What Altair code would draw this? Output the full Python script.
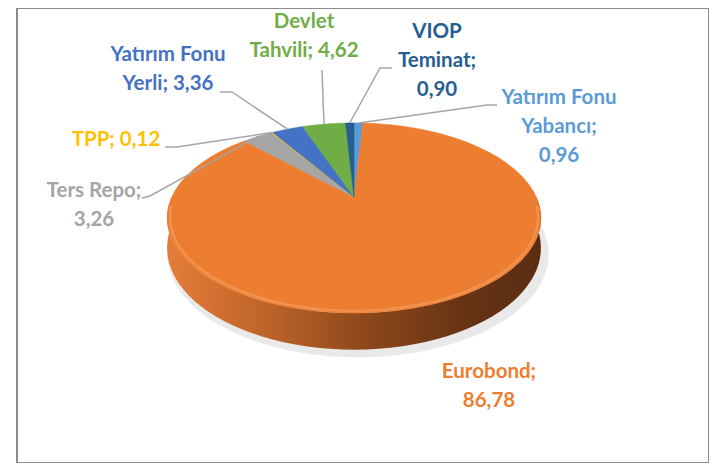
import altair as alt
import pandas as pd

# ---- data ----
categories = ["Yatırım Fonu Yabancı", "Eurobond", "Ters Repo", "TPP",
              "Yatırım Fonu Yerli", "Devlet Tahvili", "VIOP Teminat"]
values = [0.96, 86.78, 3.26, 0.12, 3.36, 4.62, 0.90]
label_names = ["Yatırım Fonu\nYabancı;", "Eurobond;", "Ters Repo;", "TPP;",
               "Yatırım Fonu\nYerli;", "Devlet\nTahvili;", "VIOP\nTeminat;"]
label_seps = ["\n", "\n", "\n", " ", " ", " ", "\n"]

# ---- style / layout ----
colors = ["#5B9BD5", "#ED7D31", "#A5A5A5", "#FFC000", "#4472C4", "#70AD47", "#255E91"]
label_x = [559, 489, 94, 116, 168, 304, 437]
label_y = [98, 372, 191, 140, 55, 22, 32]
elbow_x = [487, None, 150, 177, 232, 322, 380]
elbow_y = [105, None, 196, 147, 92, 70, 68]
end_x = [497, None, 142, 165, 220, 322, 392]
end_y = [105, None, 198, 147, 92, 70, 68]

CX, CY = 354, 197      # apex of the pie
A, B, K = 90.4, 182.3, 0.221   # perspective ellipse
D = 28.5               # depth of the wall
N = 60

df = pd.DataFrame({
    "cat": categories, "value": values, "order": list(range(len(values))),
    "name": label_names, "sep": label_seps,
    "lx": label_x, "ly": label_y,
    "ex": elbow_x, "ey": elbow_y, "tx": end_x, "ty": end_y,
})

xs = alt.Scale(domain=[17, 709], range=[0, 692], nice=False, zero=False)
ys = alt.Scale(domain=[8, 463], range=[0, 455], nice=False, zero=False)
cs = alt.Scale(domain=categories, range=colors)


def proj_x(u, v):
    return f"{CX} + {B} * ({u}) / (1 - {K} * ({v}))"


def proj_y(v, dep="0"):
    return f"{CY} + ({A} * ({v}) + ({dep})) / (1 - {K} * ({v}))"


def angles(ch):
    return (ch.transform_window(cum="sum(value)", sort=[alt.SortField("order")], frame=[None, 0])
              .transform_joinaggregate(total="sum(value)")
              .transform_calculate(t0="2*PI*(datum.cum - datum.value)/datum.total")
              .transform_calculate(t1="2*PI*datum.cum/datum.total"))


X = alt.X("X:Q", scale=xs, axis=None)
Y = alt.Y("Y:Q", scale=ys, axis=None)

# shadow under the pie
shadow = (alt.Chart(pd.DataFrame({"part": ["shadow"]}))
          .transform_calculate(idx=f"sequence(0, {2*N+1})")
          .transform_flatten(["idx"])
          .transform_calculate(th=f"2*PI*datum.idx/{2*N}")
          .transform_calculate(u="sin(datum.th)", v="-cos(datum.th)")
          .transform_calculate(X=proj_x("1.02*datum.u", "datum.v") + " + 4",
                               Y=proj_y("datum.v", f"{D} + 6"))
          .mark_line(filled=True, interpolate="linear-closed", color="#e9e9e9")
          .encode(x=X, y=Y, order="idx:Q"))

# wall (side of the cylinder)
wall = (alt.Chart(pd.DataFrame({"part": ["wall"]}))
        .transform_calculate(idx=f"sequence(0, {2*N+2})")
        .transform_flatten(["idx"])
        .transform_calculate(top=f"datum.idx <= {N} ? 1 : 0")
        .transform_calculate(th=f"datum.idx <= {N} ? PI/2 + PI*datum.idx/{N} : 3*PI/2 - PI*(datum.idx-{N+1})/{N}")
        .transform_calculate(u="sin(datum.th)", v="-cos(datum.th)")
        .transform_calculate(X=proj_x("datum.u", "datum.v"),
                             Y=proj_y("datum.v", f"(1-datum.top)*{D}"))
        .mark_line(filled=True, interpolate="linear-closed",
                   color=alt.LinearGradient(gradient="linear", x1=0, x2=1, y1=0, y2=0,
                                            stops=[alt.GradientStop(offset=0, color="#e57d37"),
                                                   alt.GradientStop(offset=0.25, color="#c0652a"),
                                                   alt.GradientStop(offset=0.55, color="#8a461a"),
                                                   alt.GradientStop(offset=0.8, color="#663314"),
                                                   alt.GradientStop(offset=1, color="#5a2d11")]))
        .encode(x=X, y=Y, order="idx:Q"))

# top face slices
slices = (angles(alt.Chart(df))
          .transform_calculate(idx=f"sequence(-1, {N+1})")
          .transform_flatten(["idx"])
          .transform_calculate(r="datum.idx < 0 ? 0 : 1")
          .transform_calculate(th=f"datum.t0 + (datum.t1 - datum.t0) * max(datum.idx, 0) / {N}")
          .transform_calculate(u="datum.r * sin(datum.th)", v="-datum.r * cos(datum.th)")
          .transform_calculate(X=proj_x("datum.u", "datum.v"), Y=proj_y("datum.v"))
          .mark_line(filled=True, interpolate="linear-closed", strokeWidth=0.6)
          .encode(x=X, y=Y, order="idx:Q", detail="cat:N",
                  color=alt.Color("cat:N", scale=cs, legend=None),
                  stroke=alt.Stroke("cat:N", scale=cs, legend=None)))

# bevel highlight along the front rim of the top face
rim = (alt.Chart(pd.DataFrame({"part": ["rim"]}))
       .transform_calculate(idx=f"sequence(0, {N+1})")
       .transform_flatten(["idx"])
       .transform_calculate(th=f"PI/2 + 0.1 + (PI - 0.2)*datum.idx/{N}")
       .transform_calculate(u="0.985*sin(datum.th)", v="-0.985*cos(datum.th)")
       .transform_calculate(X=proj_x("datum.u", "datum.v"), Y=proj_y("datum.v"))
       .mark_line(color="#f6a467", strokeWidth=2.5, opacity=0.55)
       .encode(x=X, y=Y, order="idx:Q"))

# leader lines
leaders = (angles(alt.Chart(df))
           .transform_filter("isValid(datum.ex)")
           .transform_calculate(tm="(datum.t0 + datum.t1)/2")
           .transform_calculate(pt="sequence(0, 3)")
           .transform_flatten(["pt"])
           .transform_calculate(u="sin(datum.tm)", v="-cos(datum.tm)")
           .transform_calculate(
               X="datum.pt == 0 ? " + proj_x("datum.u", "datum.v") + " : datum.pt == 1 ? datum.ex : datum.tx",
               Y="datum.pt == 0 ? " + proj_y("datum.v") + " : datum.pt == 1 ? datum.ey : datum.ty")
           .mark_line(color="#a6a6a6", strokeWidth=1.5)
           .encode(x=X, y=Y, order="pt:Q", detail="cat:N"))

# labels
labels = (alt.Chart(df)
          .transform_calculate(txt="datum.name + datum.sep + replace(format(datum.value, '.2f'), '.', ',')")
          .mark_text(font="Lato", fontWeight="bold", fontSize=20.5, lineHeight=29, lineBreak="\n",
                     align="center", baseline="middle")
          .encode(x=alt.X("lx:Q", scale=xs, axis=None), y=alt.Y("ly:Q", scale=ys, axis=None),
                  text="txt:N", color=alt.Color("cat:N", scale=cs, legend=None)))

chart = (alt.layer(shadow, wall, slices, rim, leaders, labels)
         .properties(width=692, height=455, autosize="none",
                     padding={"left": 9, "top": 0, "right": 0, "bottom": 0})
         .configure_view(stroke="#8c8c8c", strokeWidth=2))

chart.save("out.html", embed_options={"renderer": "svg", "actions": False})
